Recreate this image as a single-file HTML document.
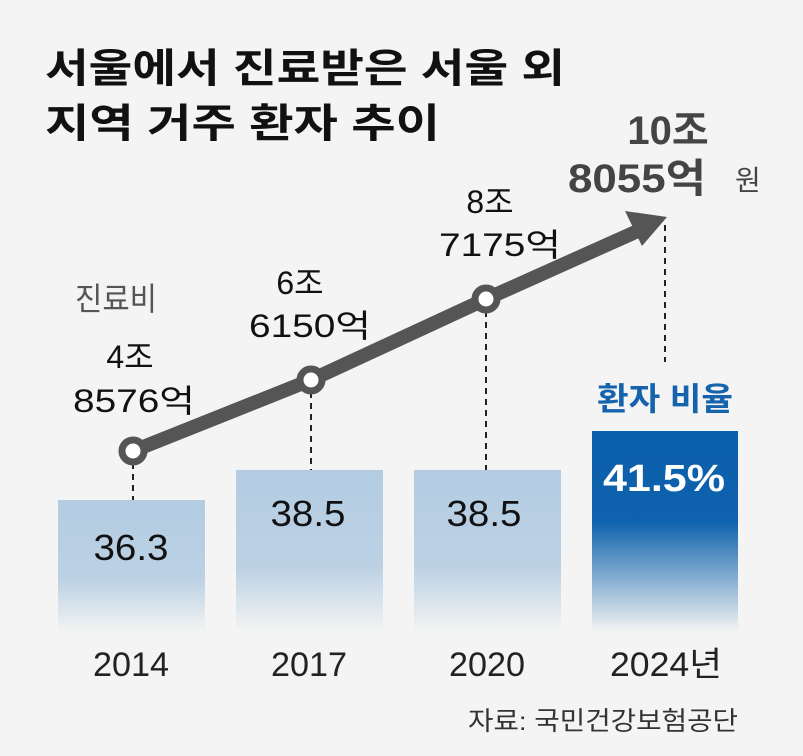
<!DOCTYPE html>
<html><head><meta charset="utf-8"><style>
html,body{margin:0;padding:0;background:#f3f4f3;}
svg{display:block}
text{font-family:"Liberation Sans","Noto Sans CJK KR",sans-serif;}
</style></head><body>
<svg width="803" height="756" viewBox="0 0 803 756" xmlns="http://www.w3.org/2000/svg">
<defs>
<linearGradient id="lb" x1="0" y1="0" x2="0" y2="1">
<stop offset="0" stop-color="#b3cce2"/><stop offset="0.6" stop-color="#bcd1e4"/><stop offset="1" stop-color="#f3f4f3"/></linearGradient>
<linearGradient id="db" x1="0" y1="0" x2="0" y2="1">
<stop offset="0" stop-color="#0a5fac"/><stop offset="0.45" stop-color="#0f62ad"/><stop offset="1" stop-color="#f3f4f3"/></linearGradient>
</defs>
<rect width="803" height="756" fill="#f3f4f3"/>
<text x="45" y="82" font-size="40" font-weight="bold" fill="#111" textLength="520" lengthAdjust="spacingAndGlyphs">서울에서 진료받은 서울 외</text>
<text x="45" y="137" font-size="40" font-weight="bold" fill="#111" textLength="395" lengthAdjust="spacingAndGlyphs">지역 거주 환자 추이</text>
<rect x="58" y="500" width="147" height="132" fill="url(#lb)"/>
<rect x="236" y="470" width="147" height="162" fill="url(#lb)"/>
<rect x="414" y="470" width="147" height="162" fill="url(#lb)"/>
<rect x="592" y="431" width="146" height="201" fill="url(#db)"/>
<g stroke="#222" stroke-width="2" stroke-dasharray="6,5">
<line x1="133" y1="463" x2="133" y2="500"/>
<line x1="311" y1="392" x2="311" y2="470"/>
<line x1="486" y1="311" x2="486" y2="470"/>
<line x1="665" y1="225" x2="665" y2="362"/>
</g>
<polyline points="133,451 311,380 486,299 640,230" fill="none" stroke="#555" stroke-width="14"/>
<polygon points="667,217 625,211 642,246" fill="#555"/>
<g fill="#fff" stroke="#555" stroke-width="7">
<circle cx="133" cy="451" r="11"/><circle cx="311" cy="380" r="11"/><circle cx="486" cy="299" r="11"/>
</g>
<text x="75" y="310" font-size="32" fill="#555" textLength="82" lengthAdjust="spacingAndGlyphs">진료비</text>
<g font-size="32" fill="#111" text-anchor="middle">
<text x="130" y="368">4조</text>
<text x="134" y="412" textLength="122" lengthAdjust="spacingAndGlyphs">8576억</text>
<text x="300" y="294">6조</text>
<text x="310" y="337" textLength="122" lengthAdjust="spacingAndGlyphs">6150억</text>
<text x="490" y="213">8조</text>
<text x="500" y="256" textLength="122" lengthAdjust="spacingAndGlyphs">7175억</text>
</g>
<g font-size="40" font-weight="bold" fill="#444" text-anchor="middle">
<text x="668" y="144">10조</text>
<text x="637" y="192" textLength="138" lengthAdjust="spacingAndGlyphs">8055억</text>
</g>
<text x="735" y="190" font-size="28" fill="#444">원</text>
<text x="665" y="410" font-size="32" font-weight="bold" fill="#1663ad" text-anchor="middle" textLength="136" lengthAdjust="spacingAndGlyphs">환자 비율</text>
<g font-size="36" fill="#111" text-anchor="middle">
<text x="131" y="560" textLength="75" lengthAdjust="spacingAndGlyphs">36.3</text>
<text x="308" y="526" textLength="75" lengthAdjust="spacingAndGlyphs">38.5</text>
<text x="484" y="526" textLength="75" lengthAdjust="spacingAndGlyphs">38.5</text>
</g>
<text x="664" y="491" font-size="38" font-weight="bold" fill="#fff" text-anchor="middle" textLength="122" lengthAdjust="spacingAndGlyphs">41.5%</text>
<g font-size="34" fill="#222" text-anchor="middle">
<text x="131" y="676" textLength="76" lengthAdjust="spacingAndGlyphs">2014</text>
<text x="309" y="676" textLength="76" lengthAdjust="spacingAndGlyphs">2017</text>
<text x="487" y="676" textLength="76" lengthAdjust="spacingAndGlyphs">2020</text>
<text x="666" y="676" textLength="112" lengthAdjust="spacingAndGlyphs">2024년</text>
</g>
<text x="738" y="730" font-size="26" fill="#333" text-anchor="end" textLength="270" lengthAdjust="spacingAndGlyphs">자료: 국민건강보험공단</text>
</svg>
</body></html>
